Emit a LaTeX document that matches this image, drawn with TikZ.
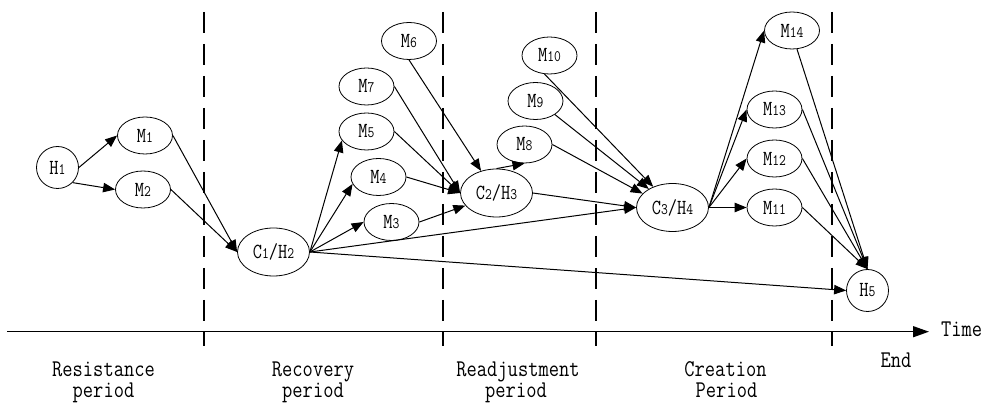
\documentclass[tikz,border=0pt]{standalone}
\usepackage{fontspec}
\newfontfamily\labfont[FakeStretch=0.83]{Latin Modern Mono}
\usetikzlibrary{arrows.meta,shapes.geometric}
% smaller digits inside state labels
\newcommand\dg[1]{{\fontsize{16}{16}\selectfont #1}}
\begin{document}
\begin{tikzpicture}[x=1pt,y=-1pt,
  mstate/.style={draw, ellipse, line width=0.8pt, minimum width=55pt,
    minimum height=37pt, inner sep=0pt, font=\labfont\fontsize{21.5}{21.5}\selectfont},
  cstate/.style={mstate, minimum width=72pt, minimum height=48pt},
  hstate/.style={mstate, minimum width=42pt, minimum height=42pt},
  flow/.style={line width=1pt, -{Triangle[length=12pt,width=9.5pt]}},
  phase/.style={line width=1.2pt, dash pattern=on 21pt off 11pt},
  caption/.style={anchor=base, inner sep=0pt, font=\labfont\fontsize{24}{24}\selectfont}]
\useasboundingbox (0,0) rectangle (983,403);

% period boundaries
\foreach \px in {204,443,596,832}
  \draw[phase] (\px,12) -- (\px,346);

% time axis
\coordinate (t0) at (7,331.7);
\coordinate (t1) at (929,331.7);
\draw[line width=1.4pt, -{Triangle[length=16pt,width=11pt]}] (t0) -- (t1);
\node[caption, anchor=base west] (time) at (941,337) {Time};

% period captions
\node[caption] (res1) at (103.5,376.5) {Resistance};
\node[caption] (res2) at (103.5,398) {period};
\node[caption] (rec1) at (313,376.5) {Recovery};
\node[caption] (rec2) at (313,398) {period};
\node[caption] (rea1) at (518,376.5) {Readjustment};
\node[caption] (rea2) at (516,398) {period};
\node[caption] (cre1) at (725.5,376.5) {Creation};
\node[caption] (cre2) at (726.5,398) {Period};
\node[caption] (end) at (896,367) {End};

% states
\node[hstate] (H1) at (57.5,167.5) {H\dg{1}};
\node[mstate] (M1) at (145,135.5) {M\dg{1}};
\node[mstate] (M2) at (143,189.5) {M\dg{2}};
\node[cstate] (C1) at (273.5,252) {C\dg{1}/H\dg{2}};
\node[mstate] (M6) at (409,41) {M\dg{6}};
\node[mstate] (M7) at (366.5,86.5) {M\dg{7}};
\node[mstate] (M5) at (366.5,131.5) {M\dg{5}};
\node[mstate] (M4) at (378.5,177) {M\dg{4}};
\node[mstate] (M3) at (391.5,222) {M\dg{3}};
\node[cstate] (C2) at (496.5,193) {C\dg{2}/H\dg{3}};
\node[mstate] (M10) at (549.5,55.5) {M\dg{10}};
\node[mstate] (M9) at (535.5,101) {M\dg{9}};
\node[mstate] (M8) at (524.5,144.5) {M\dg{8}};
\node[cstate] (C3) at (672.5,207.5) {C\dg{3}/H\dg{4}};
\node[mstate] (M14) at (792,30.5) {M\dg{14}};
\node[mstate] (M13) at (774.5,109.5) {M\dg{13}};
\node[mstate] (M12) at (774.5,158.5) {M\dg{12}};
\node[mstate] (M11) at (774.5,207.5) {M\dg{11}};
\node[hstate] (H5) at (867.5,290.5) {H\dg{5}};

% resistance period
\draw[flow] (H1.east) -- (M1.west);
\draw[flow] (H1.-45) -- (M2.west);
\draw[flow] (M1.east) -- (C1.west);
\draw[flow] (M2.east) -- (C1.west);

% recovery period
\draw[flow] (C1.east) -- (M5.200);
\draw[flow] (C1.east) -- (M4.195);
\draw[flow] (C1.east) -- (M3.west);
\draw[flow] (C1.east) -- (C3.west);
\draw[flow] (C1.east) -- (H5.west);
\draw[flow] (M7.east) -- (C2.west);
\draw[flow] (M5.east) -- (C2.west);
\draw[flow] (M4.east) -- (C2.west);
\draw[flow] (M6.south) -- (C2.125);
\draw[flow] (M3.east) -- (C2.202);

% readjustment period
\draw[flow] (C2.north) -- (M8.south);
\draw[flow] (C2.east) -- (C3.west);
\draw[flow] (M8.east) -- (C3.155);
\draw[flow] (M9.-35) -- (C3.142);
\draw[flow] (M10.-105) -- (C3.133);

% creation period
\draw[flow] (C3.east) -- (M14.west);
\draw[flow] (C3.east) -- (M13.west);
\draw[flow] (C3.east) -- (M12.west);
\draw[flow] (C3.east) -- (M11.west);
\draw[flow] (M14.-75) -- (H5.north);
\draw[flow] (M13.east) -- (H5.north);
\draw[flow] (M12.east) -- (H5.north);
\draw[flow] (M11.east) -- (H5.north);
\end{tikzpicture}
\end{document}
